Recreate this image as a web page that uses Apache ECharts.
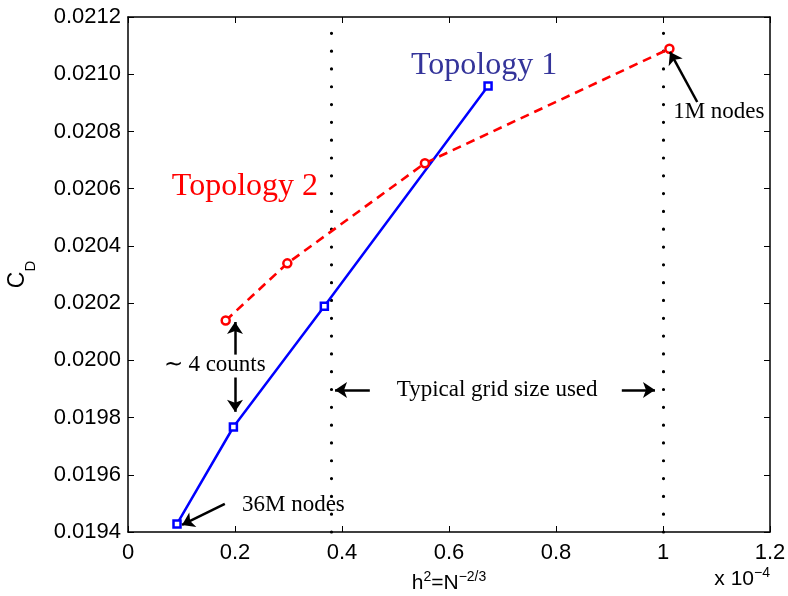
<!DOCTYPE html>
<html>
<head>
<meta charset="utf-8">
<title>CD vs h2</title>
<script src="https://cdn.jsdelivr.net/npm/echarts@6.0.0/dist/echarts.min.js"></script>
<style>
    html, body { margin: 0; padding: 0; background: #fff; }
    #main { width: 788px; height: 596px; }
</style>
</head>
<body>
<div id="main"></div>
<script>
// data (x in units of 1e-4)
var topo1X = [0.0916, 0.197, 0.367, 0.673];
var topo1Y = [0.019428, 0.019767, 0.020189, 0.020959];
var topo2X = [0.1826, 0.2978, 0.555, 1.012];
var topo2Y = [0.020139, 0.020339, 0.020689, 0.021089];
var gridSizeX = [0.375, 1.0];

// annotations, in data coordinates
var noteText = ["Topology 1", "Topology 2", "\u223C 4 counts", "Typical grid size used", "36M nodes", "1M nodes"];
var noteX = [0.529, 0.082, 0.162, 0.690, 0.213, 1.019];
var noteY = [0.021029, 0.020606, 0.019984, 0.019896, 0.019494, 0.020868];
var arrowFrom = [[0.2, 0.02002], [0.2, 0.01994], [0.452, 0.019896], [0.923, 0.019896], [0.181, 0.019498], [1.064, 0.020903]];
var arrowTo = [[0.2, 0.020134], [0.2, 0.01982], [0.387, 0.019896], [0.985, 0.019896], [0.101, 0.0194245], [1.013, 0.021078]];

var chart = echarts.init(document.getElementById("main"));

function zip(xs, ys) {
    var out = [];
    for (var i = 0; i < xs.length; i++) out.push([xs[i], ys[i]]);
    return out;
}

var serif = "Liberation Serif";
var sans = "Liberation Sans";

var noteData = [];
for (var i = 0; i < noteText.length; i++) {
    var big = i < 2;
    var color = i === 0 ? "#34349a" : (i === 1 ? "#ff0000" : "#000");
    var centred = (i === 2 || i === 3);
    noteData.push({
        value: [noteX[i], noteY[i]],
        label: {
            show: true,
            formatter: noteText[i],
            position: centred ? "inside" : "right",
            distance: 0,
            color: color,
            opacity: 1,
            textBorderWidth: 0,
            fontFamily: serif,
            fontSize: big ? 32 : 23
        }
    });
}

var arrowData = [];
for (var j = 0; j < arrowFrom.length; j++) {
    arrowData.push([{coord: arrowFrom[j]}, {coord: arrowTo[j]}]);
}

var gridLines = [];
for (var k = 0; k < gridSizeX.length; k++) {
    gridLines.push({xAxis: gridSizeX[k]});
}

var tickStyle = {inside: true, length: 6, lineStyle: {color: "#000", width: 1}};
var lineAxis = {show: true, onZero: false, lineStyle: {color: "#000", width: 1.5}};

var option = {
    animation: false,
    backgroundColor: "#fff",
    grid: {left: 128, top: 17, right: 18, bottom: 64, containLabel: false, outerBoundsMode: "none"},
    xAxis: [{
        type: "value", min: 0, max: 1.2, interval: 0.2, position: "bottom",
        axisLine: lineAxis, axisTick: tickStyle, splitLine: {show: false},
        axisLabel: {
            margin: 10, fontSize: 22, fontFamily: sans, color: "#000",
            formatter: function (v) { return parseFloat(v.toFixed(1)).toString(); }
        },
        name: "{b|h}{s|2}{b|=N}{s|\u22122/3}",
        nameLocation: "middle", nameGap: 38,
        nameTextStyle: {
            rich: {
                b: {fontSize: 21, fontFamily: sans, color: "#000", verticalAlign: "bottom"},
                s: {fontSize: 14, fontFamily: sans, color: "#000", verticalAlign: "bottom", padding: [0, 0, 10, 0]}
            }
        }
    }, {
        type: "value", min: 0, max: 1.2, interval: 0.2, position: "top",
        axisLine: lineAxis, axisTick: tickStyle, axisLabel: {show: false}, splitLine: {show: false}
    }],
    yAxis: [{
        type: "value", min: 0.0194, max: 0.0212, interval: 0.0002, position: "left",
        axisLine: lineAxis, axisTick: tickStyle, splitLine: {show: false},
        axisLabel: {
            margin: 7, fontSize: 22, fontFamily: sans, color: "#000",
            formatter: function (v) { return v.toFixed(4); }
        },
        name: "{c|C}{d|D}",
        nameLocation: "middle", nameGap: 90,
        nameTextStyle: {
            rich: {
                c: {fontSize: 23, fontFamily: sans, color: "#000", verticalAlign: "bottom", padding: [0, 0, 9, 0]},
                d: {fontSize: 15, fontFamily: sans, color: "#000", verticalAlign: "bottom"}
            }
        }
    }, {
        type: "value", min: 0.0194, max: 0.0212, interval: 0.0002, position: "right",
        axisLine: lineAxis, axisTick: tickStyle, axisLabel: {show: false}, splitLine: {show: false}
    }],
    graphic: [{
        type: "text",
        right: 18,
        top: 566,
        style: {
            text: "{b|x 10}{s|\u22124}",
            rich: {
                b: {fontSize: 21, fontFamily: sans, fill: "#000", verticalAlign: "bottom"},
                s: {fontSize: 14, fontFamily: sans, fill: "#000", verticalAlign: "bottom", padding: [0, 0, 10, 0]}
            }
        }
    }],
    series: [{
        name: "Topology 1",
        type: "line",
        data: zip(topo1X, topo1Y),
        lineStyle: {color: "#0000ff", width: 2.5},
        symbol: "rect",
        symbolSize: 7,
        itemStyle: {color: "#fff", borderColor: "#0000ff", borderWidth: 2.5},
        z: 3,
        markLine: {
            silent: true,
            symbol: "none",
            label: {show: false},
            lineStyle: {color: "#000", width: 3.2, type: [0.01, 17.8], cap: "round"},
            data: gridLines,
            z: 1
        }
    }, {
        name: "Topology 2",
        type: "line",
        data: zip(topo2X, topo2Y),
        lineStyle: {color: "#ff0000", width: 2.6, type: [9, 6]},
        symbol: "circle",
        symbolSize: 8,
        itemStyle: {color: "#fff", borderColor: "#ff0000", borderWidth: 2.5},
        z: 3
    }, {
        name: "notes",
        type: "scatter",
        data: noteData,
        symbolSize: 0,
        itemStyle: {color: "#000", opacity: 1},
        silent: true,
        z: 4,
        markLine: {
            silent: true,
            symbol: ["none", "arrow"],
            symbolSize: 12,
            label: {show: false},
            lineStyle: {color: "#000", width: 2.5, type: "solid"},
            data: arrowData
        }
    }]
};

chart.setOption(option);
</script>
</body>
</html>
